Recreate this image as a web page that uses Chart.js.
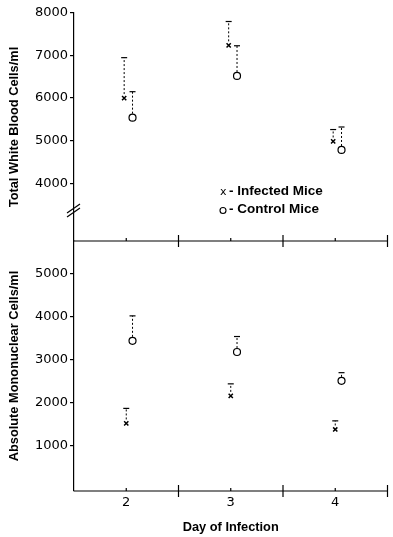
<!DOCTYPE html>
<html>
<head>
<meta charset="utf-8">
<script src="https://cdn.jsdelivr.net/npm/chart.js@4.4.1/dist/chart.umd.min.js"></script>
<style>
    html, body { margin: 0; padding: 0; background: #fff; }
    #wrap { position: relative; width: 393px; height: 537px; }
    canvas { position: absolute; left: 0; top: 0; }
</style>
</head>
<body>
<div id="wrap">
    <canvas id="bottomChart" width="393" height="537"></canvas>
    <canvas id="topChart" width="393" height="537"></canvas>
</div>
<script>
    const DAYS = [2, 3, 4];
    const DAY_LABELS = ['2', '3', '4'];
    const MAJOR_X_TICKS = [2.5, 3.5, 4.5];

    // Total white blood cells/ml (mean and upper error bar)
    const WBC_INFECTED = [6000, 7240, 4980];
    const WBC_INFECTED_UPPER = [6950, 7800, 5260];
    const WBC_CONTROL = [5540, 6520, 4780];
    const WBC_CONTROL_UPPER = [6150, 7230, 5320];
    const WBC_TICKS = [4000, 5000, 6000, 7000, 8000];

    // Absolute mononuclear cells/ml
    const MONO_INFECTED = [1520, 2160, 1380];
    const MONO_INFECTED_UPPER = [1870, 2440, 1580];
    const MONO_CONTROL = [3440, 3180, 2510];
    const MONO_CONTROL_UPPER = [4020, 3540, 2700];
    const MONO_TICKS = [1000, 2000, 3000, 4000, 5000];

    const BLACK = '#000';
    const TICK_FONT = { family: 'DejaVu Sans', size: 13 };
    const TITLE_FONT = { family: 'Liberation Sans', size: 12.8, weight: 'bold' };

    function linePath(ctx, x1, y1, x2, y2) {
        ctx.beginPath();
        ctx.moveTo(x1, y1);
        ctx.lineTo(x2, y2);
        ctx.stroke();
    }

    // dashed upper error bars with a T cap
    const errorBars = {
        id: 'errorBars',
        afterDatasetsDraw(chart) {
            const ctx = chart.ctx;
            const yScale = chart.scales.y;
            ctx.save();
            ctx.strokeStyle = BLACK;
            chart.data.datasets.forEach((ds, di) => {
                const meta = chart.getDatasetMeta(di);
                meta.data.forEach((pt, i) => {
                    const top = yScale.getPixelForValue(ds.upper[i]);
                    ctx.lineWidth = 1;
                    ctx.setLineDash([2, 2]);
                    linePath(ctx, pt.x, pt.y - 4, pt.x, top);
                    ctx.setLineDash([]);
                    ctx.lineWidth = 1.2;
                    linePath(ctx, pt.x - 3, top, pt.x + 3, top);
                });
            });
            ctx.restore();
        }
    };

    const axisDecor = {
        id: 'axisDecor',
        afterDraw(chart, args, opts) {
            const ctx = chart.ctx;
            const area = chart.chartArea;
            const xs = chart.scales.x;
            const ys = chart.scales.y;
            const y = area.bottom;
            ctx.save();
            ctx.strokeStyle = BLACK;
            ctx.fillStyle = BLACK;
            ctx.lineWidth = 1.2;
            linePath(ctx, area.left, y, area.right, y);
            MAJOR_X_TICKS.forEach(v => {
                const x = xs.getPixelForValue(v);
                linePath(ctx, x, y - 6, x, y + 6);
            });
            DAYS.forEach(d => {
                const x = xs.getPixelForValue(d);
                linePath(ctx, x, y - 3, x, y);
            });

            if (opts.labels) {
                ctx.textAlign = 'center';
                ctx.textBaseline = 'top';
                ctx.font = '13px "DejaVu Sans"';
                DAYS.forEach((d, i) => ctx.fillText(DAY_LABELS[i], xs.getPixelForValue(d), y + 5));
                ctx.font = 'bold 12.8px "Liberation Sans"';
                ctx.fillText('Day of Infection', xs.getPixelForValue(3), y + 30);
            }

            if (opts.breakAt != null) {
                const by = ys.getPixelForValue(opts.breakAt);
                const bx = area.left;
                ctx.lineWidth = 1.2;
                linePath(ctx, bx - 7, by + 5, bx + 6, by - 4);
                linePath(ctx, bx - 7, by + 1, bx + 6, by - 8);
            }

            if (opts.legend) {
                ctx.textAlign = 'left';
                ctx.textBaseline = 'middle';
                const lx = 220;
                const ly1 = ys.getPixelForValue(opts.legend[0]);
                const ly2 = ys.getPixelForValue(opts.legend[1]);
                ctx.font = '11px "DejaVu Sans"';
                ctx.fillText('x', lx, ly1);
                ctx.beginPath();
                ctx.arc(lx + 3, ly2 + 1, 3, 0, Math.PI * 2);
                ctx.lineWidth = 1.1;
                ctx.stroke();
                ctx.font = 'bold 13.5px "Liberation Sans"';
                ctx.fillText('- Infected Mice', lx + 9, ly1);
                ctx.fillText('- Control Mice', lx + 9, ly2);
            }
            ctx.restore();
        }
    };

    function makeDatasets(infected, infectedUpper, control, controlUpper, offInf, offCtl) {
        return [
            {
                label: 'Infected Mice',
                data: DAYS.map((d, i) => ({ x: d + offInf, y: infected[i] })),
                upper: infectedUpper,
                pointStyle: 'crossRot',
                pointRadius: 3,
                borderColor: BLACK,
                borderWidth: 1.5,
                showLine: false
            },
            {
                label: 'Control Mice',
                data: DAYS.map((d, i) => ({ x: d + offCtl, y: control[i] })),
                upper: controlUpper,
                pointStyle: 'circle',
                pointRadius: 3.5,
                backgroundColor: '#fff',
                borderColor: BLACK,
                borderWidth: 1.2,
                showLine: false
            }
        ];
    }

    function makeOptions(min, max, ticks, title, padding, decor) {
        return {
            responsive: false,
            animation: false,
            events: [],
            layout: { padding },
            plugins: {
                legend: { display: false },
                tooltip: { enabled: false },
                axisDecor: decor
            },
            scales: {
                x: { type: 'linear', min: 1.5, max: 4.5, display: false },
                y: {
                    type: 'linear',
                    min,
                    max,
                    afterFit: s => { s.width = 74; },
                    afterBuildTicks: s => { s.ticks = ticks.map(v => ({ value: v })); },
                    ticks: { color: BLACK, font: TICK_FONT, padding: 2, callback: v => String(v) },
                    grid: { drawOnChartArea: false, tickLength: 4, color: BLACK, lineWidth: 1.2 },
                    border: { color: BLACK, width: 1.2 },
                    title: { display: true, text: title, color: BLACK, font: TITLE_FONT, padding: { top: 7, bottom: 0 } }
                }
            }
        };
    }

    new Chart(document.getElementById('topChart'), {
        type: 'scatter',
        data: { datasets: makeDatasets(WBC_INFECTED, WBC_INFECTED_UPPER, WBC_CONTROL, WBC_CONTROL_UPPER, -0.02, 0.06) },
        options: makeOptions(2640, 8000, WBC_TICKS, 'Total White Blood Cells/ml',
            { top: 13, bottom: 296, left: 0, right: 1 },
            { labels: false, breakAt: 3320, legend: [3800, 3380] }),
        plugins: [errorBars, axisDecor]
    });

    new Chart(document.getElementById('bottomChart'), {
        type: 'scatter',
        data: { datasets: makeDatasets(MONO_INFECTED, MONO_INFECTED_UPPER, MONO_CONTROL, MONO_CONTROL_UPPER, 0, 0.06) },
        options: makeOptions(-50, 5760, MONO_TICKS, 'Absolute Mononuclear Cells/ml',
            { top: 241, bottom: 46, left: 0, right: 1 },
            { labels: true, breakAt: null, legend: null }),
        plugins: [errorBars, axisDecor]
    });
</script>
</body>
</html>
